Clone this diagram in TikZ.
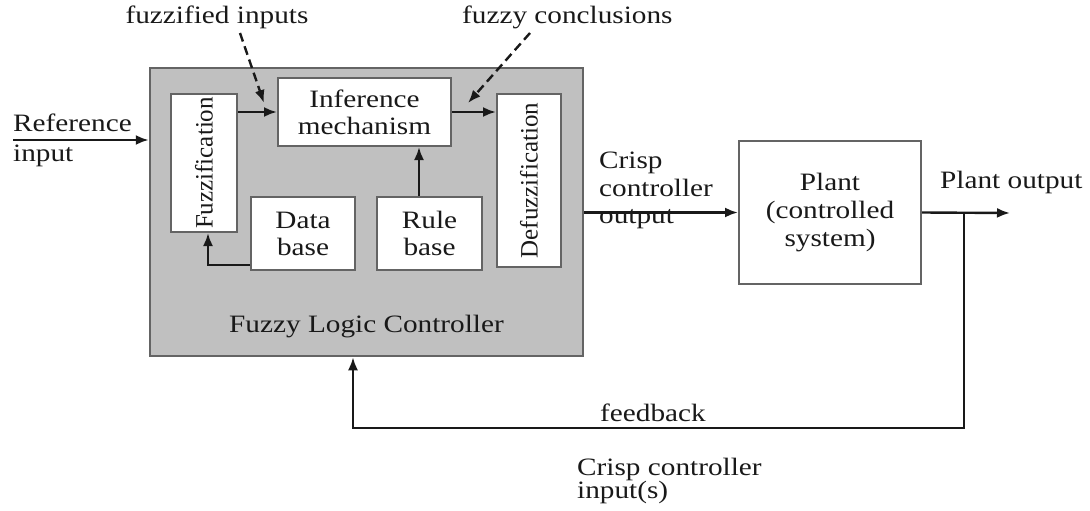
\documentclass[tikz,border=0pt]{standalone}
\usepackage{fontspec}
\setmainfont{Liberation Serif}[FakeStretch=1.17]
\newfontfamily\rotfont{Liberation Serif}
\usetikzlibrary{arrows.meta}
\definecolor{flcgray}{RGB}{192,192,192}
\definecolor{edgegray}{RGB}{100,100,100}
\definecolor{ink}{RGB}{25,25,25}
\begin{document}
\begin{tikzpicture}[x=1pt,y=-1pt,
  every node/.style={inner sep=0pt, text=ink},
  lbl/.style={font=\fontsize{25}{27}\selectfont, align=left},
  wbox/.style={draw=edgegray, line width=2pt, fill=white, align=center,
               font=\fontsize{25}{27}\selectfont},
  rbox/.style={wbox, font=\rotfont\fontsize{25}{27}\selectfont},
  arr/.style={draw=ink, line width=2.4pt, -{Latex[length=13pt,width=10pt]}},
  darr/.style={arr, dash pattern=on 9pt off 5pt}]
\useasboundingbox (0,0) rectangle (1090,511);

% controller
\node[draw=edgegray, line width=2.5pt, fill=flcgray, minimum width=433pt, minimum height=288pt] (flc) at (366.5,212) {};
\node[lbl] (flclabel) at (366.5,327) {Fuzzy Logic Controller};

\node[rbox, minimum width=138pt, minimum height=66pt, rotate=90] (fuzz) at (204,163) {Fuzzification};
\node[wbox, minimum width=173pt, minimum height=68pt] (inf) at (364.5,112) {Inference\\[0pt]mechanism};
\node[rbox, minimum width=173pt, minimum height=64pt, rotate=90] (defuzz) at (529,180.5) {Defuzzification};
\node[wbox, minimum width=104pt, minimum height=73pt] (data) at (303,233.5) {Data\\base};
\node[wbox, minimum width=105pt, minimum height=73pt] (rule) at (429.5,233.5) {Rule\\base};

% plant
\node[wbox, minimum width=182pt, minimum height=143pt, font=\fontsize{25}{28}\selectfont] (plant) at (830,212.5) {Plant\\(controlled\\system)};

% labels
\node[lbl, anchor=west, font=\fontsize{25}{30}\selectfont] (reflbl) at (13,140) {Reference\\input};
\node[lbl, anchor=west, font=\fontsize{25}{27.5}\selectfont] (crisplbl) at (599,190.5) {Crisp\\controller\\output};
\node[lbl, anchor=west] (plantlbl) at (940,182) {Plant output};
\node[lbl] (fzlbl) at (217,17) {fuzzified inputs};
\node[lbl, anchor=west] (fclbl) at (462,17) {fuzzy conclusions};
\node[lbl] (fblbl) at (653,413) {feedback};
\node[lbl, anchor=west, font=\fontsize{25}{22}\selectfont] (cilbl) at (577,481) {Crisp controller\\input(s)};

% coordinates
\coordinate (refstart) at (13,140);
\coordinate (outend) at (1010,213);
\coordinate (tap) at (964,213);
\coordinate (fbcorner) at (964,428);
\coordinate (d1s) at (240,33);
\coordinate (d1e) at (264,103);
\coordinate (d2s) at (530,33);
\coordinate (d2e) at (468,103);

% connectors
\draw[arr] (refstart) -- (refstart -| flc.west);
\draw[arr] (fuzz.south |- inf.west) -- (inf.west);
\draw[arr] (inf.east) -- (inf.east -| defuzz.north);
\draw[arr] ([xshift=-10.5pt]rule.north) -- ([xshift=-10.5pt]rule.north |- inf.south);
\draw[arr] ([yshift=-31.5pt]data.west) -| ([xshift=4pt]fuzz.west);
\draw[arr] (flc.east |- plant.west) -- (plant.west);
\draw[arr] (plant.east) -- (outend);
\draw[arr] (tap) -- (fbcorner) -| ([xshift=-13.5pt]flc.south);
\draw[darr] (d1s) -- (d1e);
\draw[darr] (d2s) -- (d2e);
\end{tikzpicture}
\end{document}
